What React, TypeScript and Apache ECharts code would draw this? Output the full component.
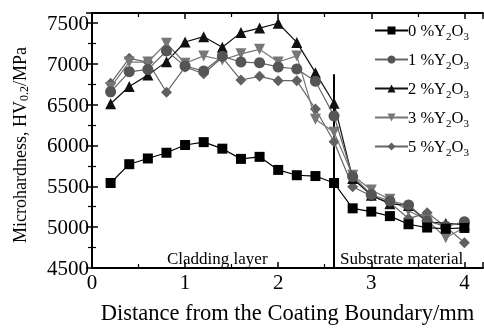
import React, { useEffect, useRef } from "react";
import * as echarts from "echarts";

const FONT = "'Liberation Serif', 'Times New Roman', serif";

const xValues = [0.2, 0.4, 0.6, 0.8, 1.0, 1.2, 1.4, 1.6, 1.8, 2.0, 2.2, 2.4, 2.6, 2.8, 3.0, 3.2, 3.4, 3.6, 3.8, 4.0];
const seriesNames = ["0", "1", "2", "3", "5"];
const y0 = [5540, 5770, 5840, 5910, 6005, 6040, 5960, 5835, 5860, 5700, 5635, 5625, 5540, 5230, 5190, 5135, 5035, 4995, 4980, 4990];
const y1 = [6655, 6900, 6930, 7155, 6970, 6910, 7090, 7020, 7010, 6960, 6935, 6785, 6360, 5620, 5400, 5320, 5270, 5075, 5010, 5065];
const y2 = [6510, 6720, 6860, 7025, 7265, 7330, 7200, 7380, 7435, 7495, 7260, 6890, 6515, 5595, 5390, 5285, 5265, 5065, 5045, 5030];
const y3 = [6710, 7020, 7020, 7250, 7005, 7095, 7045, 7120, 7175, 7020, 7095, 6320, 6160, 5635, 5455, 5340, 5200, 5085, 4870, 4995];
const y5 = [6760, 7065, 7020, 6650, 6960, 6876, 7078, 6800, 6845, 6792, 6792, 6445, 6045, 5495, 5380, 5300, 5105, 5175, 5005, 4810];
const boundaryX = 2.6;
const boundaryTop = 6870;
const xMin = 0, xMax = 4.2, xInterval = 1;
const yMin = 4500, yMax = 7620, yInterval = 500;

const styles = [
  { color: "#000000", lineColor: "#000000", symbol: "rect", size: 10, rotate: 0 },
  { color: "#555555", lineColor: "#666666", symbol: "circle", size: 11, rotate: 0 },
  { color: "#111111", lineColor: "#111111", symbol: "triangle", size: 11, rotate: 0 },
  { color: "#777777", lineColor: "#777777", symbol: "triangle", size: 11, rotate: 180 },
  { color: "#606060", lineColor: "#666666", symbol: "diamond", size: 11, rotate: 0 },
];

export default function App() {
  const ref = useRef<HTMLDivElement>(null);
  useEffect(() => {
    if (!ref.current) return;
    const chart = echarts.init(ref.current, null, { renderer: "svg" });
    const all = [y0, y1, y2, y3, y5];
    const series: any[] = all.map((ys, i) => ({
      name: seriesNames[i],
      type: "line",
      data: xValues.map((x, j) => [x, ys[j]]),
      symbol: styles[i].symbol,
      symbolSize: styles[i].size,
      symbolRotate: styles[i].rotate,
      itemStyle: { color: styles[i].color },
      lineStyle: { color: styles[i].lineColor, width: 1.2 },
      z: 10 - i,
    }));
    series[0].markLine = {
      silent: true,
      symbol: ["none", "none"],
      label: { show: false },
      lineStyle: { color: "#000", width: 2, type: "solid" },
      data: [[{ coord: [boundaryX, yMin] }, { coord: [boundaryX, boundaryTop] }]],
    };
    const axisCommon = {
      axisLine: { show: true, lineStyle: { color: "#000", width: 2 } },
      axisTick: { show: true, inside: true, length: 6, lineStyle: { color: "#000", width: 1.5 } },
      minorTick: { show: true, splitNumber: 2, length: 4, lineStyle: { color: "#000", width: 1.2 } },
      splitLine: { show: false },
    };
    chart.setOption({
      animation: false,
      textStyle: { fontFamily: FONT },
      grid: { left: 92, top: 13, right: 1, bottom: 51, containLabel: false },
      xAxis: [
        {
          type: "value", min: xMin, max: xMax, interval: xInterval,
          ...axisCommon,
          axisLabel: { show: true, showMaxLabel: false, color: "#000", fontSize: 21, fontFamily: FONT, margin: 3, formatter: (v: number) => String(v) },
          name: "Distance from the Coating Boundary/mm",
          nameLocation: "middle", nameGap: 33,
          nameTextStyle: { color: "#000", fontSize: 22.5, fontFamily: FONT },
        },
        {
          type: "value", position: "top", min: xMin, max: xMax, interval: xInterval,
          ...axisCommon, axisLabel: { show: false },
        },
      ],
      yAxis: [
        {
          type: "value", min: yMin, max: yMax, interval: yInterval,
          ...axisCommon,
          axisLabel: { show: true, showMaxLabel: false, color: "#000", fontSize: 21, fontFamily: FONT, margin: 3, formatter: (v: number) => String(v) },
        },
        {
          type: "value", position: "right", min: yMin, max: yMax, interval: yInterval,
          ...axisCommon, axisLabel: { show: false },
        },
      ],
      legend: {
        orient: "vertical",
        left: 369, top: 17,
        itemWidth: 33, itemHeight: 10, itemGap: 10,
        data: seriesNames,
        formatter: (n: string) => `${n} %Y{s|2}O{s|3}`,
        textStyle: {
          color: "#000", fontSize: 16.5, fontFamily: FONT, padding: [0, 0, 0, -5],
          rich: { s: { fontSize: 11, fontFamily: FONT, color: "#000", padding: [10, 0, 0, 0] } },
        },
      },
      graphic: [
        {
          type: "text", x: 20, y: 145, rotation: Math.PI / 2,
          style: {
            text: "Microhardness, HV{s|0.2}/MPa",
            font: `18px ${FONT}`, fill: "#000", align: "center", verticalAlign: "middle",
            rich: { s: { fontSize: 12, fontFamily: FONT, fill: "#000", padding: [8, 0, 0, 0] } },
          },
        },
        { type: "text", left: 167, top: 250, style: { text: "Cladding layer", font: `17px ${FONT}`, fill: "#000" } },
        { type: "text", left: 340, top: 250, style: { text: "Substrate material", font: `17px ${FONT}`, fill: "#000" } },
      ],
      series,
    });
    return () => chart.dispose();
  }, []);
  return <div ref={ref} style={{ position: "fixed", left: 0, top: 0, width: 484, height: 329 }} />;
}
